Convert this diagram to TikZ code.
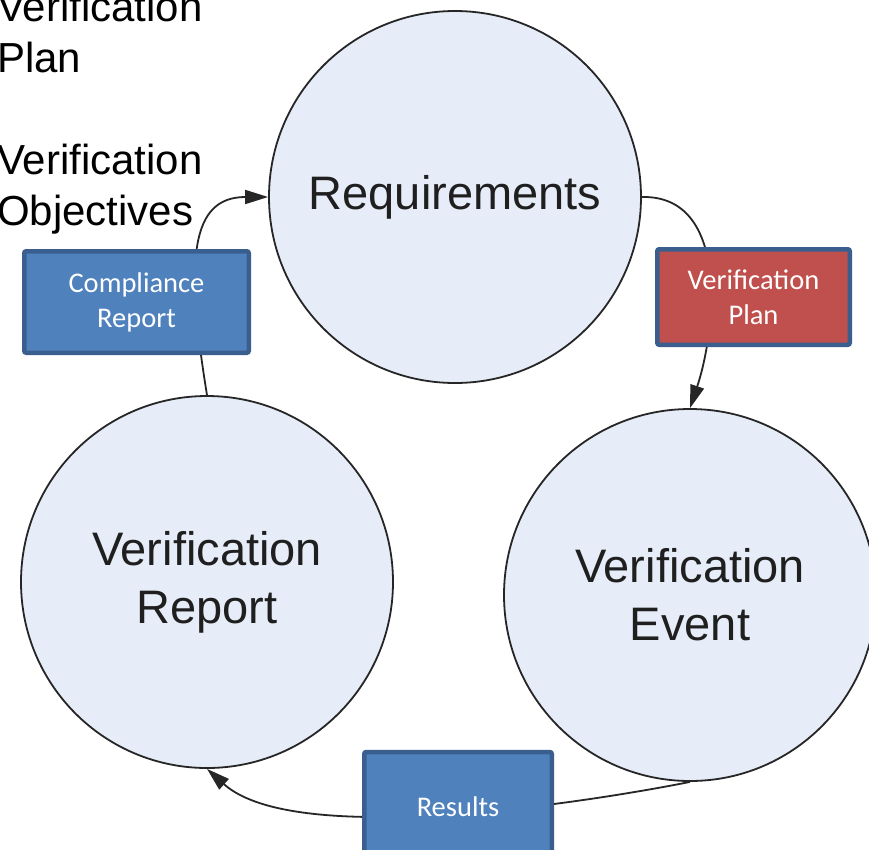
\documentclass[tikz,border=0pt]{standalone}
\usepackage{fontspec}
\setmainfont{Liberation Sans}
\newfontfamily\calibri{Carlito}
\usetikzlibrary{arrows.meta}
\definecolor{circfill}{HTML}{E7EDF8}
\definecolor{boxblue}{HTML}{4F81BD}
\definecolor{boxred}{HTML}{C0504D}
\definecolor{boxedge}{HTML}{3A5F8E}
\definecolor{linecol}{HTML}{262626}
\begin{document}
\begin{tikzpicture}[x=1pt,y=-1pt,
  phase/.style={circle,draw=linecol,line width=1.8pt,fill=circfill,minimum size=372pt,inner sep=0pt,align=center,text=black!88,font=\fontsize{47}{58}\selectfont},
  artifact/.style={rectangle,rounded corners=2pt,draw=boxedge,line width=4.5pt,text=white,align=center,font=\calibri\fontsize{28.5}{35}\selectfont,inner sep=0pt},
  flow/.style={draw=linecol,line width=1.8pt,-{Triangle[length=23pt,width=14pt]}},
  note/.style={anchor=base west,align=left,inner sep=0pt,font=\fontsize{42}{51}\selectfont}
]
\useasboundingbox (0,0) rectangle (869,849);
\clip (0,0) rectangle (869,849);
\fill[white] (0,0) rectangle (869,849);

\node[note] (vptext) at (-3,72) {Verification\\Plan};
\node[note] (votext) at (-3,225) {Verification\\Objectives};

\node[phase] (req) at (455,197) {Requirements};
\node[phase] (vr) at (207,582) {Verification\\Report};
\node[phase] (ve) at (690,595) {Verification\\Event};

\draw[flow] (vr.north) .. controls +(-22,-135) and +(-78,0) .. (req.west);
\draw[flow] (req.east) .. controls +(88,-2) and +(26,-78) .. (ve.north);
\draw[flow] (ve.south) .. controls +(-90,18) and +(90,81) .. (vr.south);

\node[artifact,fill=boxblue,minimum width=224.5pt,minimum height=101.5pt] (cr) at (136.5,302) {Compliance\\Report};
\node[artifact,fill=boxred,minimum width=192.5pt,minimum height=95.5pt] (vp) at (753.5,297) {Verification\\Plan};
\node[artifact,fill=boxblue,minimum width=187.5pt,minimum height=110pt] (res) at (458,807) {Results};
\end{tikzpicture}
\end{document}
